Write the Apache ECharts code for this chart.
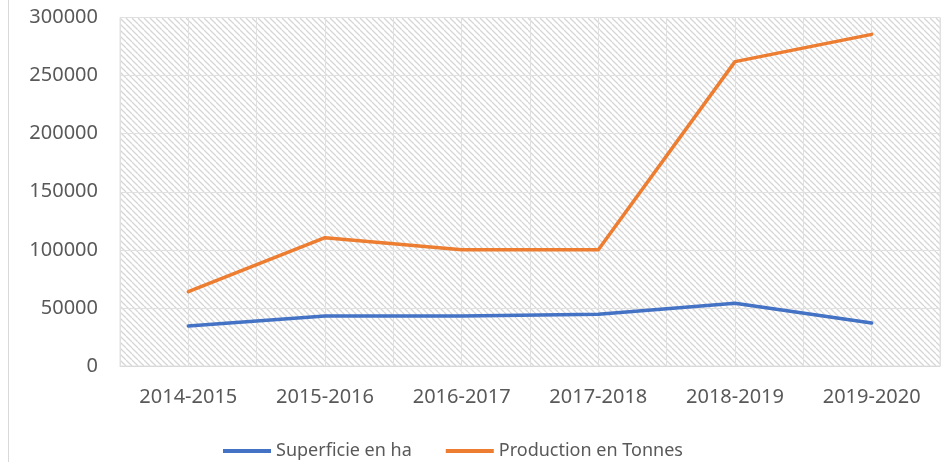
<!DOCTYPE html>
<html>
<head>
<meta charset="utf-8">
<script src="https://cdn.jsdelivr.net/npm/echarts@6/dist/echarts.min.js"></script>
<style>
html,body{margin:0;padding:0;background:#fff;}
#c1{width:944px;height:462px;}
</style>
</head>
<body>
<div id="c1"></div>
<script>
// data
var years = ['2014-2015', '2015-2016', '2016-2017', '2017-2018', '2018-2019', '2019-2020'];
var superficie = [34500, 43000, 43000, 44500, 54000, 37000];
var production = [64000, 110500, 100000, 100000, 262000, 285500];
var yTicks = [0, 50000, 100000, 150000, 200000, 250000, 300000];

// hatched plot background
function hatch(){
    var s = 6;
    var cv = document.createElement('canvas');
    cv.width = s; cv.height = s;
    var ctx = cv.getContext('2d');
    ctx.fillStyle = '#fff';
    ctx.fillRect(0, 0, s, s);
    ctx.strokeStyle = '#d6d6d6';
    ctx.lineWidth = 1.3;
    [-s, 0, s].forEach(function(o){
        ctx.beginPath();
        ctx.moveTo(o, 0);
        ctx.lineTo(o + s, s);
        ctx.stroke();
    });
    return {image: cv, repeat: 'repeat'};
}

var font = 'Noto Sans';
var chart = echarts.init(document.getElementById('c1'));
var option = {
    animation: false,
    color: ['#4472C4', '#ED7D31'],
    grid: {
        left: 120, right: 4, top: 17.5, bottom: 96,
        show: true,
        backgroundColor: hatch(),
        borderColor: '#e0e0e0',
        borderWidth: 1
    },
    legend: {
        top: 437,
        left: 218,
        icon: 'rect',
        itemWidth: 48,
        itemHeight: 4,
        itemGap: 34,
        textStyle: {color: '#595959', fontSize: 18, fontFamily: font, lineHeight: 18},
        data: ['Superficie en ha', 'Production en Tonnes']
    },
    xAxis: [{
        type: 'category',
        data: years,
        boundaryGap: true,
        axisLine: {lineStyle: {color: '#d9d9d9', width: 1}},
        axisTick: {show: false},
        axisLabel: {color: '#595959', fontSize: 20, fontFamily: font, margin: 21},
        splitLine: {show: false}
    }, {
        // helper axis: half-category gridlines
        type: 'value',
        min: 0, max: 12, interval: 1,
        show: true,
        axisLine: {show: false},
        axisTick: {show: false},
        axisLabel: {show: false},
        splitLine: {show: true, lineStyle: {color: '#e0e0e0', width: 1}}
    }],
    yAxis: {
        type: 'value',
        min: yTicks[0], max: yTicks[yTicks.length - 1], interval: 50000,
        axisLine: {show: false},
        axisTick: {show: false},
        axisLabel: {
            color: '#595959', fontSize: 20, fontFamily: font, margin: 22,
            formatter: function(v){ return String(v); }
        },
        splitLine: {lineStyle: {color: '#e0e0e0', width: 1}}
    },
    graphic: [{
        type: 'line',
        shape: {x1: 8.5, y1: 0, x2: 8.5, y2: 462},
        style: {stroke: '#d9d9d9', lineWidth: 1}
    }],
    series: [{
        name: 'Superficie en ha',
        type: 'line',
        data: superficie,
        symbol: 'none',
        lineStyle: {width: 3.5, cap: 'round'}
    }, {
        name: 'Production en Tonnes',
        type: 'line',
        data: production,
        symbol: 'none',
        lineStyle: {width: 3.5, cap: 'round'}
    }]
};
chart.setOption(option);
</script>
</body>
</html>
